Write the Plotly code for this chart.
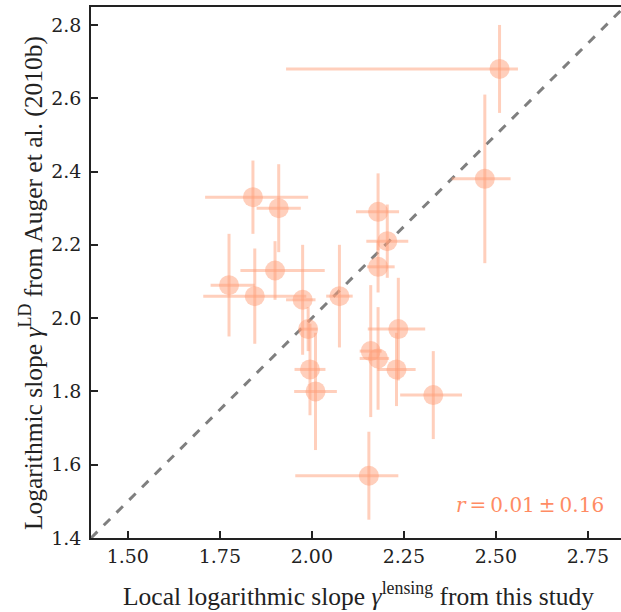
import plotly.graph_objects as go

# gamma_lensing (x) and gamma_LD (y) with error bars
gamma_lens = [2.51, 2.47, 1.84, 1.91, 2.18, 2.205, 2.18, 1.90, 1.775, 1.845, 1.975,
              2.075, 1.99, 1.995, 2.01, 2.16, 2.18, 2.235, 2.23, 2.33, 2.155]
gamma_ld = [2.68, 2.38, 2.33, 2.30, 2.29, 2.21, 2.14, 2.13, 2.09, 2.06, 2.05,
            2.06, 1.97, 1.86, 1.80, 1.91, 1.89, 1.97, 1.86, 1.79, 1.57]
xerr_plus = [0.05, 0.07, 0.15, 0.06, 0.057, 0.057, 0.045, 0.135, 0.07, 0.14, 0.035,
             0.036, 0.025, 0.042, 0.058, 0.03, 0.03, 0.073, 0.052, 0.078, 0.08]
xerr_minus = [0.58, 0.09, 0.13, 0.06, 0.06, 0.057, 0.03, 0.094, 0.05, 0.14, 0.045,
              0.036, 0.025, 0.042, 0.058, 0.03, 0.05, 0.083, 0.052, 0.09, 0.20]
yerr = [0.12, 0.23, 0.10, 0.12, 0.105, 0.10, 0.07, 0.08, 0.14, 0.13, 0.15,
        0.14, 0.06, 0.125, 0.16, 0.18, 0.14, 0.14, 0.10, 0.12, 0.12]

x_ticks = [1.50, 1.75, 2.00, 2.25, 2.50, 2.75]
y_ticks = [1.4, 1.6, 1.8, 2.0, 2.2, 2.4, 2.6, 2.8]
one_to_one = [1.4, 2.85]
r_label = "<i>r</i>\u2009=\u20090.01\u2009±\u20090.16"
x_title = "Local logarithmic slope <i>γ</i><sup>lensing</sup> from this study"
y_title = "Logarithmic slope <i>γ</i><sup>LD</sup> from Auger et al. (2010b)"

PT = "rgba(255,160,122,0.5)"
TXT = "Liberation Serif"
NUM = "DejaVu Serif"
INK = "#222222"

fig = go.Figure()
fig.add_trace(go.Scatter(
    x=one_to_one, y=one_to_one, mode="lines",
    line=dict(color="#7f7f7f", width=3, dash="dash"),
    hoverinfo="skip", showlegend=False))
fig.add_trace(go.Scatter(
    x=gamma_lens, y=gamma_ld, mode="markers",
    marker=dict(size=20, color=PT, line=dict(width=0)),
    error_x=dict(type="data", symmetric=False, array=xerr_plus,
                 arrayminus=xerr_minus, color=PT, thickness=3, width=0),
    error_y=dict(type="data", array=yerr, color=PT, thickness=3, width=0),
    showlegend=False))

fig.add_annotation(x=2.80, y=1.49, xref="x", yref="y", text=r_label,
                   showarrow=False, xanchor="right", yanchor="middle",
                   font=dict(family=NUM, size=20, color="#FF8C64"))
fig.add_annotation(x=0.504, y=-0.1073, xref="paper", yref="paper", text=x_title,
                   showarrow=False, xanchor="center", yanchor="middle",
                   font=dict(family=TXT, size=25.5, color=INK))
fig.add_annotation(x=-0.1132, y=0.48, xref="paper", yref="paper", text=y_title,
                   showarrow=False, xanchor="center", yanchor="middle", textangle=-90,
                   font=dict(family=TXT, size=25.5, color=INK))

fig.update_layout(
    width=621, height=612,
    margin=dict(l=91, r=0, t=7, b=74),
    paper_bgcolor="white", plot_bgcolor="white",
    font=dict(family=TXT, size=19, color=INK),
    xaxis=dict(range=[1.4, 2.84], tickvals=x_ticks,
               ticktext=[f"{v:.2f}" for v in x_ticks],
               ticks="inside", ticklen=7, tickwidth=1.5, tickcolor=INK,
               showline=True, linecolor=INK, linewidth=1.5, mirror=True,
               showgrid=False, zeroline=False, ticklabelstandoff=0,
               automargin=False,
               tickfont=dict(family=NUM, size=19, color=INK)),
    yaxis=dict(range=[1.4, 2.849], tickvals=y_ticks,
               ticktext=[f"{v:.1f}" for v in y_ticks],
               ticks="inside", ticklen=7, tickwidth=1.5, tickcolor=INK,
               showline=True, linecolor=INK, linewidth=1.5, mirror=False,
               showgrid=False, zeroline=False, ticklabelstandoff=4,
               automargin=False,
               tickfont=dict(family=NUM, size=19, color=INK)),
)

fig.write_html("out.html", config={"displayModeBar": False},
               post_script="document.body.style.margin='0';document.body.style.padding='0';")
